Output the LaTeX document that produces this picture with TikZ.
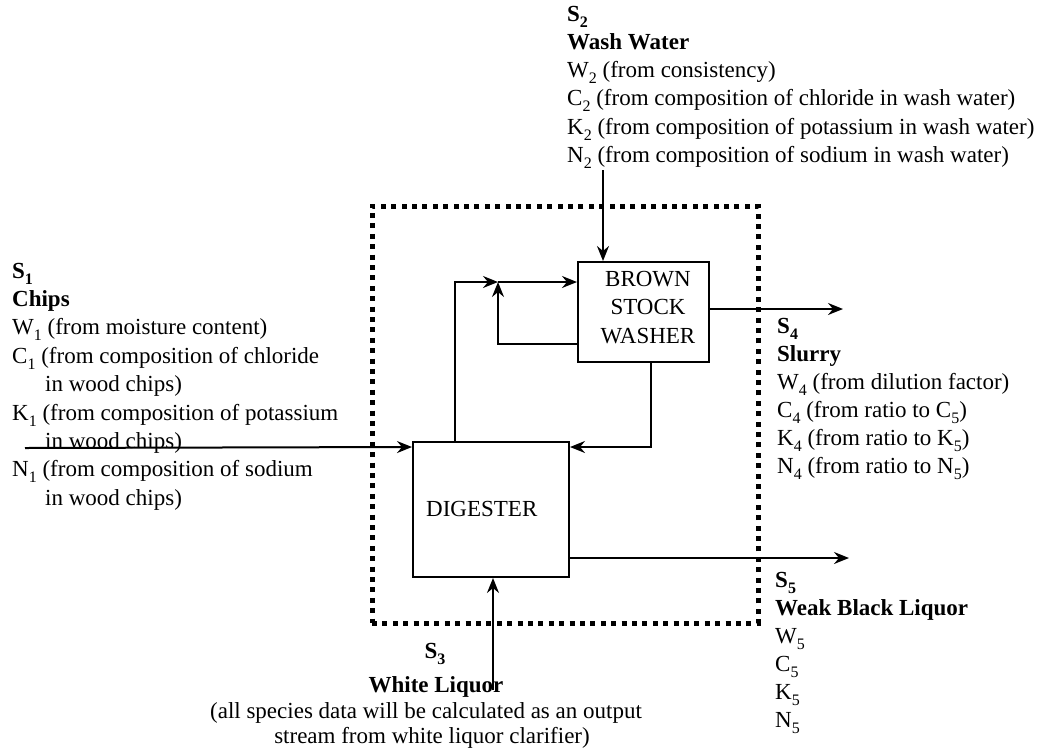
\documentclass[tikz,border=0pt]{standalone}
\usepackage{fontspec}
\setmainfont{Liberation Serif}
\usetikzlibrary{arrows.meta}
\newcommand{\sbs}[1]{\raisebox{-6pt}{\fontsize{16}{16}\selectfont #1}}
\begin{document}
\begin{tikzpicture}[x=1pt,y=-1pt,
  txt/.style={anchor=base west, inner sep=0pt, font=\fontsize{23}{28}\selectfont},
  ctxt/.style={anchor=base, inner sep=0pt, font=\fontsize{23}{28}\selectfont},
  box/.style={draw, line width=2pt, inner sep=0pt},
  flow/.style={line width=2pt, -{Stealth[length=15pt,width=12pt,inset=5pt]}},
  bound/.style={draw, line width=5pt, dash pattern=on 5pt off 5.4pt, inner sep=0pt}]
\useasboundingbox (0,0) rectangle (1047,748);

% control volume boundary
\node[bound, minimum width=386pt, minimum height=417pt] (bnd) at (565,414.5) {};

% units
\node[box, minimum width=131pt, minimum height=100pt] (washer) at (643.5,312) {};
\node[box, minimum width=156pt, minimum height=135pt] (dig) at (491,509.5) {};
\node[ctxt] (wt1) at (648,286) {BROWN};
\node[ctxt] (wt2) at (648,314.5) {STOCK};
\node[ctxt] (wt3) at (648,343) {WASHER};
\node[txt] (dt) at (426,516) {DIGESTER};

% free ends
\coordinate (s2in) at (603,170);
\coordinate (s1in) at (25,448);
\coordinate (s3in) at (493,690);
\coordinate (s4out) at (843,309);
\coordinate (s5out) at (849,558);
\coordinate (j) at (498,282);

% connectors
\draw[flow] (s2in) -- (s2in |- washer.north);
\draw[flow] ([xshift=-36pt]dig.north) |- (j);
\draw[flow] (j) -- (j -| washer.west);
\draw[flow] ([yshift=-32pt]washer.west) -| (j);
\draw[flow] ([xshift=7.5pt]washer.south) |- ([yshift=-6pt]dig.north east);
\draw[flow] (s1in) -- ([yshift=-6pt]dig.north west);
\draw[flow] (washer.east |- s4out) -- (s4out);
\draw[flow] (dig.east |- s5out) -- (s5out);
\draw[flow] (s3in) -- (s3in |- dig.south);

% S2 wash water
\node[txt] (s2a) at (567,21) {\bfseries S\sbs{2}};
\node[txt] (s2b) at (567,49.3) {\bfseries Wash Water};
\node[txt] (s2c) at (567,77.6) {W\sbs{2} (from consistency)};
\node[txt] (s2d) at (567,105.9) {C\sbs{2} (from composition of chloride in wash water)};
\node[txt] (s2e) at (567,134.2) {K\sbs{2} (from composition of potassium in wash water)};
\node[txt] (s2f) at (567,162.5) {N\sbs{2} (from composition of sodium in wash water)};

% S1 chips
\node[txt] (s1a) at (12,278) {\bfseries S\sbs{1}};
\node[txt] (s1b) at (12,306.4) {\bfseries Chips};
\node[txt] (s1c) at (12,334.8) {W\sbs{1} (from moisture content)};
\node[txt] (s1d) at (12,363.2) {C\sbs{1} (from composition of chloride};
\node[txt] (s1e) at (45,391.6) {in wood chips)};
\node[txt] (s1f) at (12,420) {K\sbs{1} (from composition of potassium};
\node[txt] (s1g) at (45,448.4) {in wood chips)};
\node[txt] (s1h) at (12,476.8) {N\sbs{1} (from composition of sodium};
\node[txt] (s1i) at (45,505.2) {in wood chips)};

% S4 slurry
\node[txt] (s4a) at (777,333) {\bfseries S\sbs{4}};
\node[txt] (s4b) at (777,361) {\bfseries Slurry};
\node[txt] (s4c) at (777,389) {W\sbs{4} (from dilution factor)};
\node[txt] (s4d) at (777,417) {C\sbs{4} (from ratio to C\sbs{5})};
\node[txt] (s4e) at (777,445) {K\sbs{4} (from ratio to K\sbs{5})};
\node[txt] (s4f) at (777,473) {N\sbs{4} (from ratio to N\sbs{5})};

% S5 weak black liquor
\node[txt] (s5a) at (775,587) {\bfseries S\sbs{5}};
\node[txt] (s5b) at (775,615) {\bfseries Weak Black Liquor};
\node[txt] (s5c) at (775,643) {W\sbs{5}};
\node[txt] (s5d) at (775,671) {C\sbs{5}};
\node[txt] (s5e) at (775,699) {K\sbs{5}};
\node[txt] (s5f) at (775,727) {N\sbs{5}};

% S3 white liquor
\node[ctxt] (s3a) at (435,658) {\bfseries S\sbs{3}};
\node[ctxt] (s3b) at (436,692) {\bfseries White Liquor};
\node[ctxt] (s3c) at (426,718) {(all species data will be calculated as an output};
\node[ctxt] (s3d) at (432,743) {stream from white liquor clarifier)};
\end{tikzpicture}
\end{document}
